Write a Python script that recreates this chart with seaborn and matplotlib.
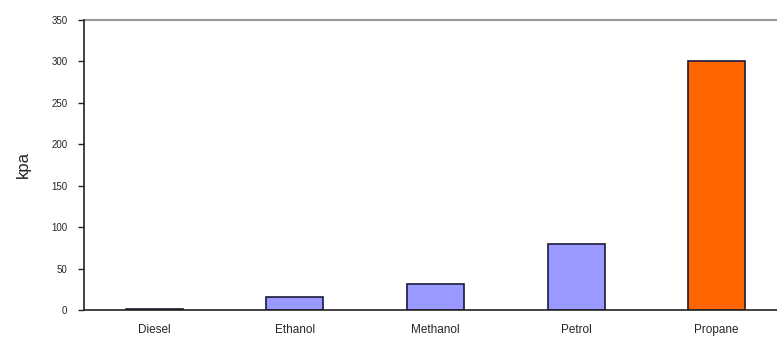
import matplotlib
matplotlib.use("Agg")
import matplotlib.pyplot as plt
import seaborn as sns
import pandas as pd
import numpy as np

categories = ["Diesel", "Ethanol", "Methanol", "Petrol", "Propane"]
values = [1, 16, 31, 80, 300]
bar_colors = ["#9999FF", "#9999FF", "#9999FF", "#9999FF", "#FF6600"]
yticks = [0, 50, 100, 150, 200, 250, 300, 350]

sns.set_style("white")
plt.rcParams['font.family'] = ['Liberation Sans', 'DejaVu Sans']

df = pd.DataFrame({"fuel": categories, "kpa": values})

fig = plt.figure(figsize=(7.77, 3.54), dpi=100)
ax = fig.add_axes([84/777, 1-310/354, 703/777, 290/354])

sns.barplot(data=df, x="fuel", y="kpa", hue="fuel", palette=bar_colors,
            order=categories, hue_order=categories, legend=False,
            width=0.405, edgecolor="#1a1a3a", linewidth=1.2, saturation=1, ax=ax)

ax.set_ylim(0, 350)
ax.set_xlim(-0.5, 4.5)
ax.set_yticks(yticks)
ax.set_yticklabels([str(t) for t in yticks], fontsize=7)
ax.set_xticks(range(len(categories)))
ax.set_xticklabels(categories, fontsize=8.5)
ax.tick_params(axis="x", length=0, pad=10)
ax.set_xticks([i + 0.5 for i in range(len(categories) - 1)], minor=True)
ax.tick_params(axis="x", which="minor", length=4, width=1, direction="out", color="#222222")
ax.tick_params(axis="y", length=4, width=1, direction="out", left=True, color="#222222", pad=8)

for s in ["top", "right"]:
    ax.spines[s].set_visible(False)
ax.spines["left"].set_color("#222222")
ax.spines["bottom"].set_color("#222222")
ax.spines["left"].set_linewidth(1.2)
ax.spines["bottom"].set_linewidth(1.2)
ax.axhline(350, color="#999999", linewidth=1.5, clip_on=False)

ax.set_xlabel("")
ax.set_ylabel("kpa", fontsize=12, labelpad=15)

fig.savefig("out.png", dpi=100)
